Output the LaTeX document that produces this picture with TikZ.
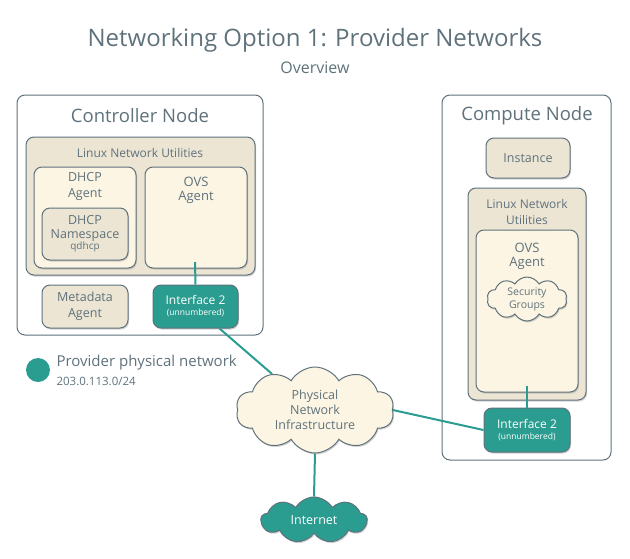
\documentclass[tikz,border=0pt]{standalone}
\usepackage{fontspec}
\setmainfont{Open Sans}
\usetikzlibrary{shapes.symbols,shadows}
\definecolor{slate}{HTML}{5F727C}
\definecolor{tan}{HTML}{EDE5D3}
\definecolor{cream}{HTML}{FCF5E3}
\definecolor{teal}{HTML}{2A9D90}
\tikzset{
  box/.style={draw=slate, line width=1pt, rounded corners=8pt, text=slate, align=center},
  shade/.style={drop shadow={opacity=0.35, shadow xshift=1pt, shadow yshift=-1.5pt}},
  link/.style={draw=teal, line width=2pt},
  iface/.style={box, fill=teal, text=white, shade, font=\fontsize{12}{13}\selectfont},
  puff/.style={cloud, cloud puffs=10, cloud puff arc=120, cloud ignores aspect, inner sep=0pt, draw=slate, line width=1pt, fill=cream, text=slate, align=center, shade}
}
\begin{document}
\begin{tikzpicture}[x=1pt,y=-1pt]
\useasboundingbox (0,0) rectangle (630,558);
% title
\node (title) [text=slate, font=\fontsize{24}{26}\selectfont] at (315,40) {Networking Option 1: Provider Networks};
\node (sub) [text=slate, font=\fontsize{16}{17}\selectfont] at (315,68) {Overview};
% controller
\draw [box, fill=white] (17,95) rectangle (263,335);
\node (ctrl) [text=slate, font=\fontsize{18.5}{20}\selectfont] at (140,116) {Controller Node};
\draw [box, fill=tan, shade] (26,137) rectangle (255,275);
\node (lnu) [text=slate, font=\fontsize{12}{13}\selectfont] at (140,153) {Linux Network Utilities};
\draw [box, fill=cream, shade] (34,167) rectangle (136,268);
\node (dhcp) [text=slate, align=center, font=\fontsize{12.5}{16}\selectfont] at (85,186) {DHCP\\Agent};
\draw [box, fill=tan, shade] (42,208) rectangle (128,260);
\node (ns) [text=slate, align=center, font=\fontsize{12.5}{14}\selectfont] at (85,234) {DHCP\\Namespace\\[-3pt]{\fontsize{10}{10}\selectfont qdhcp}};
\draw [box, fill=cream, shade] (145,167) rectangle (247,268);
\node (ovs) [text=slate, align=center, font=\fontsize{13}{14}\selectfont] at (196,190) {OVS\\Agent};
\coordinate (ovsb) at (195,262);
\node (meta) [box, fill=tan, shade, minimum width=86pt, minimum height=43pt, font=\fontsize{12.5}{16}\selectfont] at (85,306.5) {Metadata\\Agent};
\node (if1) [iface, minimum width=85pt, minimum height=43pt] at (195.5,306.5) {Interface 2\\[-2pt]{\fontsize{8.5}{9}\selectfont (unnumbered)}};
% legend
\node (dot) [circle, fill=teal, minimum size=24pt, inner sep=0pt] at (38,370) {};
\node (leg) [anchor=west, text=slate, font=\fontsize{15}{16}\selectfont] at (53,363) {Provider physical network};
\node (net) [anchor=west, text=slate, font=\fontsize{11.5}{13}\selectfont] at (53,381) {203.0.113.0/24};
% compute
\draw [box, fill=white] (442,95) rectangle (611,460);
\node (comp) [text=slate, font=\fontsize{18.5}{20}\selectfont] at (527,116) {Compute Node};
\node (inst) [box, fill=tan, shade, minimum width=84pt, minimum height=40pt, font=\fontsize{12.5}{14}\selectfont] at (528,158) {Instance};
\draw [box, fill=tan, shade] (468,188) rectangle (586,400);
\node (lnu2) [text=slate, align=center, font=\fontsize{12}{16}\selectfont] at (527,212) {Linux Network\\Utilities};
\draw [box, fill=cream, shade] (476,230) rectangle (578,392);
\node (ovs2) [text=slate, align=center, font=\fontsize{13}{14}\selectfont] at (527,256) {OVS\\Agent};
\node (sec) [puff, minimum width=80pt, minimum height=44pt, font=\fontsize{10.5}{13}\selectfont] at (527,299) {Security\\Groups};
\coordinate (ovs2b) at (527,386);
\node (if2) [iface, minimum width=86pt, minimum height=44pt] at (527,430) {Interface 2\\[-2pt]{\fontsize{8.5}{9}\selectfont (unnumbered)}};
% physical network
\node (phys) [puff, minimum width=158pt, minimum height=86pt, font=\fontsize{12.5}{15}\selectfont] at (315,410) {Physical\\Network\\Infrastructure};
\node (inet) [puff, fill=teal, text=white, cloud puffs=9, minimum width=106pt, minimum height=46pt, font=\fontsize{12.5}{14}\selectfont] at (314,520) {Internet};
% links
\draw [link] (ovsb) -- (if1.north);
\draw [link] (ovs2b) -- (if2.north);
\draw [link] (if1.south) ++(24,0) coordinate (a) (a) -- (phys.140);
\draw [link] (phys.east) -- (if2.west);
\draw [link] (phys.south) -- (inet.north);
\end{tikzpicture}
\end{document}
